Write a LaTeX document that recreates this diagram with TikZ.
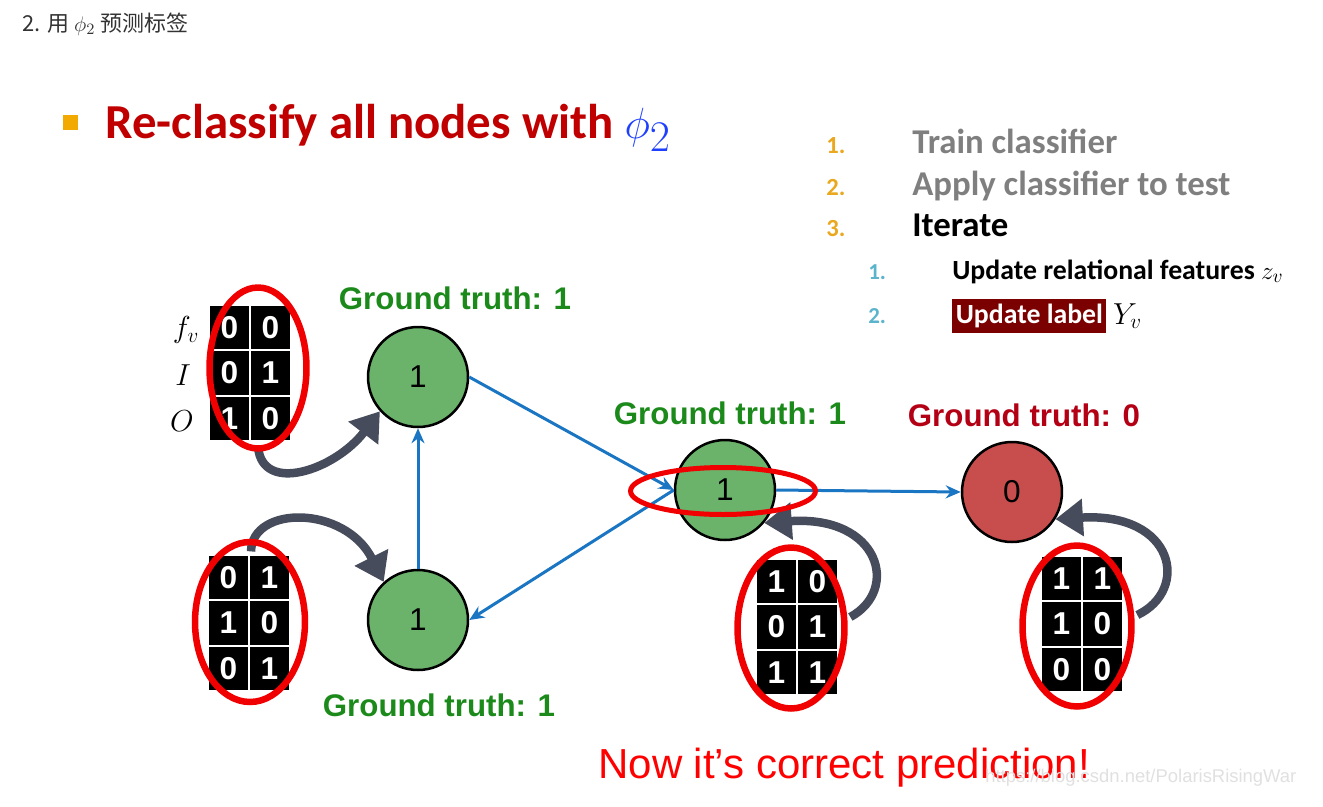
\documentclass[tikz,border=0pt]{standalone}
\usepackage{fontspec}
\newfontfamily\calib{Carlito}
\newfontfamily\arial{Liberation Sans}
\newfontfamily\cjk{Noto Sans CJK SC}
\usepackage{xcolor}
\usetikzlibrary{arrows.meta,shapes.geometric,matrix,positioning,calc}
\definecolor{hdGrey}{HTML}{333333}
\definecolor{titleRed}{HTML}{C00000}
\definecolor{phiBlue}{HTML}{1F3FFF}
\definecolor{bulOrange}{HTML}{F2A900}
\definecolor{numOrange}{HTML}{E9A81E}
\definecolor{subBlue}{HTML}{5BB4CC}
\definecolor{stepGrey}{HTML}{7F7F7F}
\definecolor{labRed}{HTML}{7B0000}
\definecolor{gtGreen}{HTML}{1B8A1B}
\definecolor{gtRed}{HTML}{B40014}
\definecolor{nodeGreen}{HTML}{6BB36B}
\definecolor{nodeRed}{HTML}{C84D4D}
\definecolor{edgeBlue}{HTML}{1A75C2}
\definecolor{ringRed}{HTML}{F00000}
\definecolor{fbGrey}{HTML}{474C5C}
\definecolor{nowRed}{HTML}{FF0000}

\begin{document}
\begin{tikzpicture}[x=0.02cm,y=-0.02cm,
  vtx/.style={circle,draw=black,line width=0.05cm,minimum size=2cm,inner sep=0,
    font=\arial\fontsize{18}{18}\selectfont},
  good/.style={vtx,fill=nodeGreen},
  bad/.style={vtx,fill=nodeRed},
  gt/.style={font=\arial\bfseries\fontsize{17.8}{20}\selectfont,text=gtGreen,inner sep=0},
  bitcell/.style={fill=black,text=white,inner sep=0,minimum width=0.78cm,minimum height=0.87cm,
    font=\arial\bfseries\fontsize{18}{18}\selectfont},
  bits/.style={matrix of nodes,nodes={bitcell},column sep=0.04cm,row sep=0.04cm,inner sep=0},
  ring/.style={ellipse,draw=ringRed,line width=0.13cm,inner sep=0},
  rowlab/.style={font=\fontsize{18}{18}\selectfont,inner sep=0},
  ed/.style={-{Stealth[length=3mm,width=2.6mm]},draw=edgeBlue,line width=0.06cm},
  fb/.style={-{Triangle[length=0.55cm,width=0.72cm]},draw=fbGrey,line width=0.17cm},
  stepnum/.style={anchor=base west,text=numOrange,font=\calib\bfseries\fontsize{14}{16}\selectfont,inner sep=0},
  steptxt/.style={anchor=base west,font=\calib\bfseries\fontsize{19.8}{22}\selectfont,inner sep=0},
  subnum/.style={stepnum,text=subBlue,font=\calib\bfseries\fontsize{13}{15}\selectfont},
  subtxt/.style={anchor=base west,font=\calib\bfseries\fontsize{15.8}{18}\selectfont,inner sep=0}]
\useasboundingbox (0,0) rectangle (1323,806);

% header and title
\node[anchor=base west,text=hdGrey,font=\cjk\fontsize{12.5}{14}\selectfont,inner sep=0] (hd) at (22,31)
  {2. 用 $\phi_2$ 预测标签};
\node[fill=bulOrange,minimum size=0.3cm,inner sep=0] (bul) at (70.5,122.5) {};
\node[anchor=base west,text=titleRed,font=\calib\bfseries\fontsize{27.8}{30}\selectfont,inner sep=0] (title) at (105,138)
  {Re-classify all nodes with {\fontsize{33}{33}\selectfont\textcolor{phiBlue}{$\phi_2$}}};

% algorithm steps
\node[stepnum] (s1n) at (826,153) {1.};
\node[steptxt,text=stepGrey] (s1) at (912,153) {Train classifier};
\node[stepnum] (s2n) at (826,195) {2.};
\node[steptxt,text=stepGrey] (s2) at (912,195) {Apply classifier to test};
\node[stepnum] (s3n) at (826,236) {3.};
\node[steptxt] (s3) at (912,236) {Iterate};
\node[subnum] (u1n) at (868,279) {1.};
\node[subtxt] (u1) at (952,279) {Update relational features $z_v$};
\node[subnum] (u2n) at (868,323) {2.};
\node[subtxt,fill=labRed,text=white,inner xsep=0.07cm,inner ysep=0.04cm,text height=0.44cm,text depth=0.16cm]
  (u2) at (952,323) {Update label};
\node[right=0.12cm of u2,font=\fontsize{18}{18}\selectfont,inner sep=0] (yv) {$Y_v$};

% graph
\node[good] (A) at (418,377) {1};
\node[good] (B) at (418,620) {1};
\node[good] (C) at (725,490) {1};
\node[bad] (D) at (1012,492) {0};

\node[gt] (gA) at (455,298) {Ground truth: 1};
\node[gt] (gB) at (439,705) {Ground truth: 1};
\node[gt] (gC) at (730,413) {Ground truth: 1};
\node[gt,text=gtRed] (gD) at (1024,415) {Ground truth: 0};

\draw[ed] (A.east) -- (C.west);
\draw[ed] (C.west) -- (B.east);
\draw[ed] (B.north) -- (A.south);
\draw[ed] (C.east) -- (D.west);

% feature vectors
\matrix[bits] (m1) at (250,373) { 0 & 0 \\ 0 & 1 \\ 1 & 0 \\ };
\matrix[bits] (m2) at (249,623) { 0 & 1 \\ 1 & 0 \\ 0 & 1 \\ };
\matrix[bits] (m3) at (797,627) { 1 & 0 \\ 0 & 1 \\ 1 & 1 \\ };
\matrix[bits] (m4) at (1082,624) { 1 & 1 \\ 1 & 0 \\ 0 & 0 \\ };

\node[rowlab] (lf) at (186,330) {$f_v$};
\node[rowlab] (li) at (183,375) {$I$};
\node[rowlab] (lo) at (182,421) {$O$};

\draw[fb] ($(m1.south)+(8,6)$) .. controls (262,495) and (335,470) .. (A.222);
\draw[fb] ($(m2.north)+(2,-4)$) .. controls (252,505) and (345,505) .. (B.132);
\draw[fb] ($(m3.east)+(13,-10)$) .. controls (900,590) and (880,515) .. (C.-40);
\draw[fb] ($(m4.east)+(15,-9)$) .. controls (1190,590) and (1175,512) .. (D.-32);

\node[ring,minimum width=1.94cm,minimum height=3.22cm] (r1) at (258,368) {};
\node[ring,minimum width=2.2cm,minimum height=3.2cm] (r2) at (250,622) {};
\node[ring,minimum width=2.14cm,minimum height=3.22cm] (r3) at (791,628) {};
\node[ring,minimum width=2.18cm,minimum height=3.22cm] (r4) at (1077,626) {};
\node[ring,line width=0.1cm,minimum width=3.7cm,minimum height=0.94cm] (rC) at (723,491) {};

\node[anchor=base west,text=nowRed,font=\arial\fontsize{23.9}{26}\selectfont,inner sep=0] (now) at (598,778)
  {Now it’s correct prediction!};
\node[anchor=base west,text=black!12,font=\arial\fontsize{10.5}{12}\selectfont,inner sep=0] (wm) at (985,782)
  {https://blog.csdn.net/PolarisRisingWar};
\end{tikzpicture}
\end{document}
